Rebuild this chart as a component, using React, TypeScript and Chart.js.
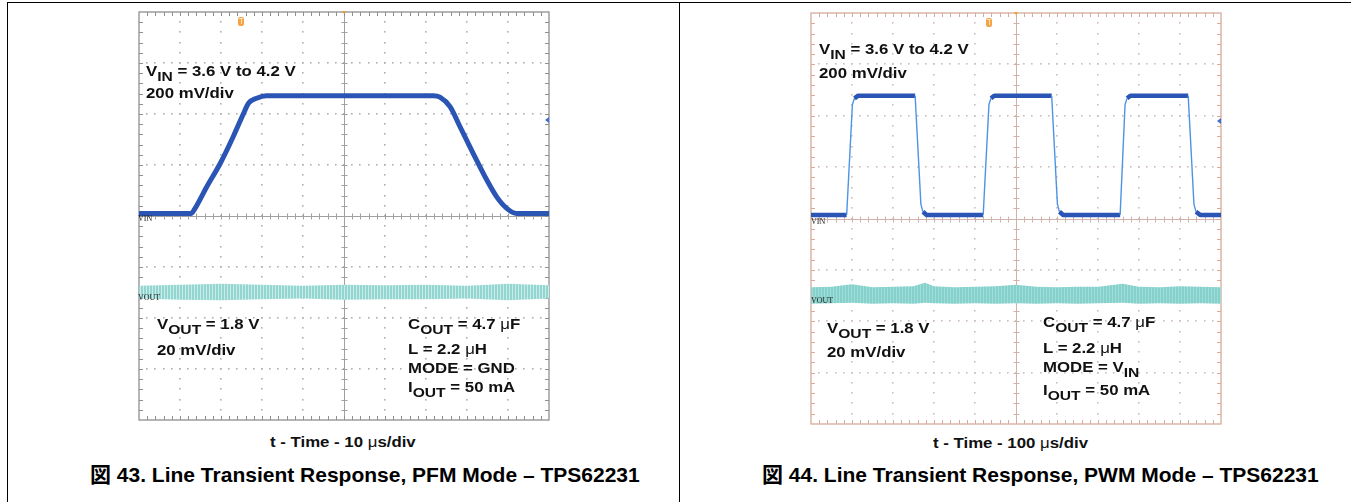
import React, { useEffect, useRef } from "react";
import { Chart, registerables } from "chart.js";

Chart.register(...registerables);

// ---------- Figure 43 (PFM mode), time in µs, level in screen divisions (centre line = 0) ----------
const pfmVinTime = [0, 12.7, 13.6, 16.5, 19.8, 23.0, 25.5, 26.7, 28.7, 31.1, 71.8, 73.4, 75.9, 78.3, 81.5, 84.8, 87.2, 89.7, 92.1, 100];
const pfmVinLevel = [0.05, 0.05, 0.14, 0.57, 1.03, 1.56, 2.01, 2.21, 2.31, 2.36, 2.36, 2.33, 2.14, 1.75, 1.23, 0.71, 0.38, 0.15, 0.05, 0.05];
const pfmVoutTime = [0, 10, 20, 30, 40, 50, 60, 70, 80, 90, 100];
const pfmVoutTop = [-1.37, -1.35, -1.33, -1.35, -1.37, -1.35, -1.36, -1.35, -1.37, -1.33, -1.36];
const pfmVoutBottom = [-1.62, -1.64, -1.65, -1.63, -1.62, -1.64, -1.63, -1.63, -1.62, -1.65, -1.62];

// ---------- Figure 44 (PWM mode), time in µs ----------
const pwmVinTime = [0, 87, 101, 106, 115, 254, 268, 273, 282, 420, 434, 439, 447, 587, 601, 606, 615, 754, 766, 771, 779, 920, 934, 939, 949, 1000];
const pwmVinLevel = [0.07, 0.07, 2.22, 2.34, 2.39, 2.39, 0.28, 0.13, 0.07, 0.07, 2.22, 2.34, 2.39, 2.39, 0.28, 0.13, 0.07, 0.07, 2.22, 2.34, 2.39, 2.39, 0.28, 0.13, 0.07, 0.07];
const pwmVoutTime = [0, 50, 100, 150, 200, 250, 278, 300, 350, 400, 450, 500, 550, 600, 650, 700, 760, 800, 850, 900, 950, 1000];
const pwmVoutTop = [-1.34, -1.33, -1.28, -1.34, -1.33, -1.32, -1.25, -1.32, -1.34, -1.33, -1.32, -1.29, -1.33, -1.34, -1.33, -1.33, -1.27, -1.33, -1.34, -1.32, -1.33, -1.34];
const pwmVoutBottom = [-1.66, -1.65, -1.64, -1.66, -1.65, -1.66, -1.64, -1.65, -1.66, -1.65, -1.66, -1.65, -1.66, -1.65, -1.66, -1.65, -1.64, -1.66, -1.65, -1.66, -1.65, -1.66];

const FONT = '"Liberation Sans", Arial, "Noto Sans CJK JP", sans-serif';

const pts = (xs: number[], ys: number[]) => xs.map((x, i) => ({ x, y: ys[i] }));

const scopeGrid = {
  id: "scopeGrid",
  beforeDatasetsDraw(chart: any, _args: any, opts: any) {
    const { ctx, chartArea: a } = chart;
    const xs = chart.scales.x;
    const ys = chart.scales.y;
    const xStep = opts.xStep;
    const nx = Math.round((xs.max - xs.min) / xStep);
    const ny = Math.round(ys.max - ys.min);
    const minor = 5;
    const X = (v: number) => xs.getPixelForValue(v);
    const Y = (v: number) => ys.getPixelForValue(v);
    ctx.save();
    // dotted grid
    ctx.fillStyle = opts.dotColor;
    for (let i = 1; i < nx; i++) {
      if (i * 2 === nx) continue;
      const px = Math.round(X(xs.min + i * xStep));
      for (let k = 1; k < ny * minor; k++) {
        const py = Math.round(Y(ys.min + k / minor));
        ctx.fillRect(px - 1, py - 1, 1.6, 1.6);
      }
    }
    for (let j = 1; j < ny; j++) {
      if (j * 2 === ny) continue;
      const py = Math.round(Y(ys.min + j));
      for (let k = 1; k < nx * minor; k++) {
        const px = Math.round(X(xs.min + (k * xStep) / minor));
        ctx.fillRect(px - 1, py - 1, 1.6, 1.6);
      }
    }
    // centre cross
    const cx = Math.round(X((xs.min + xs.max) / 2)) + 0.5;
    const cy = Math.round(Y((ys.min + ys.max) / 2)) + 0.5;
    ctx.strokeStyle = opts.centerColor;
    ctx.lineWidth = 1;
    ctx.beginPath();
    ctx.moveTo(a.left, cy);
    ctx.lineTo(a.right, cy);
    ctx.moveTo(cx, a.top);
    ctx.lineTo(cx, a.bottom);
    for (let k = 1; k < nx * minor; k++) {
      const px = Math.round(X(xs.min + (k * xStep) / minor)) + 0.5;
      ctx.moveTo(px, cy - 3);
      ctx.lineTo(px, cy + 3);
    }
    for (let k = 1; k < ny * minor; k++) {
      const py = Math.round(Y(ys.min + k / minor)) + 0.5;
      ctx.moveTo(cx - 3, py);
      ctx.lineTo(cx + 3, py);
    }
    ctx.stroke();
    // frame with inward ticks
    ctx.strokeStyle = opts.frameColor;
    ctx.lineWidth = 1.3;
    ctx.strokeRect(a.left, a.top, a.right - a.left, a.bottom - a.top);
    ctx.lineWidth = 1;
    ctx.beginPath();
    for (let k = 1; k < nx * minor; k++) {
      const px = Math.round(X(xs.min + (k * xStep) / minor)) + 0.5;
      ctx.moveTo(px, a.top);
      ctx.lineTo(px, a.top + 4);
      ctx.moveTo(px, a.bottom);
      ctx.lineTo(px, a.bottom - 4);
    }
    for (let k = 1; k < ny * minor; k++) {
      const py = Math.round(Y(ys.min + k / minor)) + 0.5;
      ctx.moveTo(a.left, py);
      ctx.lineTo(a.left + 4, py);
      ctx.moveTo(a.right, py);
      ctx.lineTo(a.right - 4, py);
    }
    ctx.stroke();
    ctx.restore();
  },
};

function stripePattern(c1: string, c2: string) {
  const cv = document.createElement("canvas");
  cv.width = 3;
  cv.height = 4;
  const g = cv.getContext("2d")!;
  g.fillStyle = c1;
  g.fillRect(0, 0, 3, 4);
  g.fillStyle = c2;
  g.fillRect(2, 0, 1, 4);
  return g.createPattern(cv, "repeat");
}

const steep = (c: any) => Math.abs(c.p1.y - c.p0.y) > 1.5 * Math.abs(c.p1.x - c.p0.x);

function Scope(props: {
  left: number; top: number; w: number; h: number; xMax: number;
  vinT: number[]; vinL: number[]; voutT: number[]; voutTop: number[]; voutBot: number[];
  smooth: boolean; dotColor: string; centerColor: string; frameColor: string; bandA: string; bandB: string;
}) {
  const ref = useRef<HTMLCanvasElement>(null);
  useEffect(() => {
    const pad = 10;
    const band = stripePattern(props.bandA, props.bandB);
    const chart = new Chart(ref.current!, {
      type: "line",
      data: {
        datasets: [
          {
            data: pts(props.voutT, props.voutTop),
            borderWidth: 0,
            pointRadius: 0,
            fill: false,
            borderColor: "rgba(0,0,0,0)",
          },
          {
            data: pts(props.voutT, props.voutBot),
            borderWidth: 0,
            pointRadius: 0,
            fill: "-1",
            backgroundColor: band as any,
            borderColor: "rgba(0,0,0,0)",
          },
          {
            data: pts(props.vinT, props.vinL),
            borderColor: "#2b55b4",
            borderWidth: props.smooth ? 5 : 4.5,
            pointRadius: 0,
            fill: false,
            cubicInterpolationMode: props.smooth ? "monotone" : "default",
            tension: 0,
            borderJoinStyle: "round",
            segment: props.smooth
              ? undefined
              : {
                  borderWidth: (c: any) => (steep(c) ? 1.4 : 4.5),
                  borderColor: (c: any) => (steep(c) ? "#4f93e3" : "#2b55b4"),
                },
          } as any,
        ],
      },
      options: {
        animation: false,
        responsive: false,
        maintainAspectRatio: false,
        layout: { padding: pad },
        plugins: {
          legend: { display: false },
          tooltip: { enabled: false },
          scopeGrid: {
            xStep: props.xMax / 10,
            dotColor: props.dotColor,
            centerColor: props.centerColor,
            frameColor: props.frameColor,
          },
        } as any,
        scales: {
          x: { type: "linear", min: 0, max: props.xMax, display: false },
          y: { type: "linear", min: -4, max: 4, display: false },
        },
      },
      plugins: [scopeGrid],
    });
    return () => chart.destroy();
  }, []);
  return (
    <canvas
      ref={ref}
      width={props.w + 20}
      height={props.h + 20}
      style={{ position: "absolute", left: props.left - 10, top: props.top - 10, width: props.w + 20, height: props.h + 20 }}
    />
  );
}

function Label(p: { x: number; base: number; size?: number; sx?: number; w?: any; children: any; color?: string }) {
  const size = p.size ?? 14;
  return (
    <div
      style={{
        position: "absolute",
        left: p.x,
        top: p.base - 0.8465 * size,
        fontSize: size,
        lineHeight: `${size}px`,
        whiteSpace: "nowrap",
        transform: `scaleX(${p.sx ?? 1.2})`,
        transformOrigin: "0 0",
        fontFamily: FONT,
        fontWeight: p.w ?? "bold",
        color: p.color ?? "#111",
      }}
    >
      {p.children}
    </div>
  );
}
const Sub = (p: { children: any }) => (
  <span style={{ position: "relative", top: 5, fontSize: "0.93em" }}>{p.children}</span>
);
const Mu = () => <span style={{ fontWeight: "normal" }}>μ</span>;

function Marks(p: { cx: number; top: number; tx: number; ax: number; ay: number; vinY: number; voutY: number; x0: number }) {
  return (
    <>
      <div style={{ position: "absolute", left: p.tx, top: p.top + 5, width: 6, height: 9, background: "#f2a446", borderRadius: 2 }}>
        <div style={{ position: "absolute", left: 1, top: 1, width: 4, height: 1, background: "#fbe0b8" }} />
        <div style={{ position: "absolute", left: 2.5, top: 1, width: 1, height: 6, background: "#fbe0b8" }} />
      </div>
      <div style={{ position: "absolute", left: p.cx - 2, top: p.top - 1, width: 0, height: 0, borderLeft: "2px solid transparent", borderRight: "2px solid transparent", borderTop: "3px solid #f29a30" }} />
      <div style={{ position: "absolute", left: p.ax, top: p.ay - 3, width: 0, height: 0, borderTop: "3px solid transparent", borderBottom: "3px solid transparent", borderRight: "4px solid #3a6fd0" }} />
      <Label x={p.x0} base={p.vinY} size={8} sx={1} w="normal" color="#222">
        <span style={{ fontFamily: '"Liberation Serif", serif' }}>VIN</span>
      </Label>
      <Label x={p.x0} base={p.voutY} size={8} sx={1} w="normal" color="#222">
        <span style={{ fontFamily: '"Liberation Serif", serif' }}>VOUT</span>
      </Label>
    </>
  );
}

export default function App() {
  return (
    <div style={{ position: "absolute", left: 0, top: 0, width: 1351, height: 502, background: "#fff", overflow: "hidden", fontFamily: FONT }}>
      {/* page frame */}
      <div style={{ position: "absolute", left: 7, top: 2, width: 1344, height: 1.3, background: "#000" }} />
      <div style={{ position: "absolute", left: 7, top: 2, width: 1.3, height: 500, background: "#000" }} />
      <div style={{ position: "absolute", left: 678.5, top: 2, width: 1.3, height: 500, background: "#000" }} />

      {/* Figure 43 */}
      <Scope left={139} top={12} w={410} h={408} xMax={100}
        vinT={pfmVinTime} vinL={pfmVinLevel} voutT={pfmVoutTime} voutTop={pfmVoutTop} voutBot={pfmVoutBottom}
        smooth={true} dotColor="#b0b0b0" centerColor="#a0a0a0" frameColor="#909090" bandA="#93d6d1" bandB="#c9ece9" />
      <Marks cx={344} top={12} tx={238} ax={545} ay={120} vinY={222} voutY={301} x0={138} />
      <Label x={146} base={75.5}>V<Sub>IN</Sub> = 3.6 V to 4.2 V</Label>
      <Label x={146} base={98}>200 mV/div</Label>
      <Label x={157} base={329}>V<Sub>OUT</Sub> = 1.8 V</Label>
      <Label x={157} base={355}>20 mV/div</Label>
      <Label x={408} base={329}>C<Sub>OUT</Sub> = 4.7 <Mu />F</Label>
      <Label x={408} base={354}>L = 2.2 <Mu />H</Label>
      <Label x={408} base={373}>MODE = GND</Label>
      <Label x={408} base={392}>I<Sub>OUT</Sub> = 50 mA</Label>
      <Label x={270} base={447}>t - Time - 10 <Mu />s/div</Label>
      <Label x={90} base={482} size={21} sx={1} color="#000">図 43. Line Transient Response, PFM Mode – TPS62231</Label>

      {/* Figure 44 */}
      <Scope left={811} top={13} w={410} h={411} xMax={1000}
        vinT={pwmVinTime} vinL={pwmVinLevel} voutT={pwmVoutTime} voutTop={pwmVoutTop} voutBot={pwmVoutBottom}
        smooth={false} dotColor="#cdbdb8" centerColor="#d0b2a8" frameColor="#d6ab9b" bandA="#84d0cb" bandB="#a2dcd8" />
      <Marks cx={1016} top={13} tx={986} ax={1217} ay={121} vinY={225} voutY={304} x0={811} />
      <Label x={819} base={54}>V<Sub>IN</Sub> = 3.6 V to 4.2 V</Label>
      <Label x={819} base={78}>200 mV/div</Label>
      <Label x={827} base={333}>V<Sub>OUT</Sub> = 1.8 V</Label>
      <Label x={827} base={357}>20 mV/div</Label>
      <Label x={1043} base={327}>C<Sub>OUT</Sub> = 4.7 <Mu />F</Label>
      <Label x={1043} base={353}>L = 2.2 <Mu />H</Label>
      <Label x={1043} base={372}>MODE = V<Sub>IN</Sub></Label>
      <Label x={1043} base={395}>I<Sub>OUT</Sub> = 50 mA</Label>
      <Label x={933} base={448}>t - Time - 100 <Mu />s/div</Label>
      <Label x={762} base={482} size={21} sx={1} color="#000">図 44. Line Transient Response, PWM Mode – TPS62231</Label>
    </div>
  );
}
